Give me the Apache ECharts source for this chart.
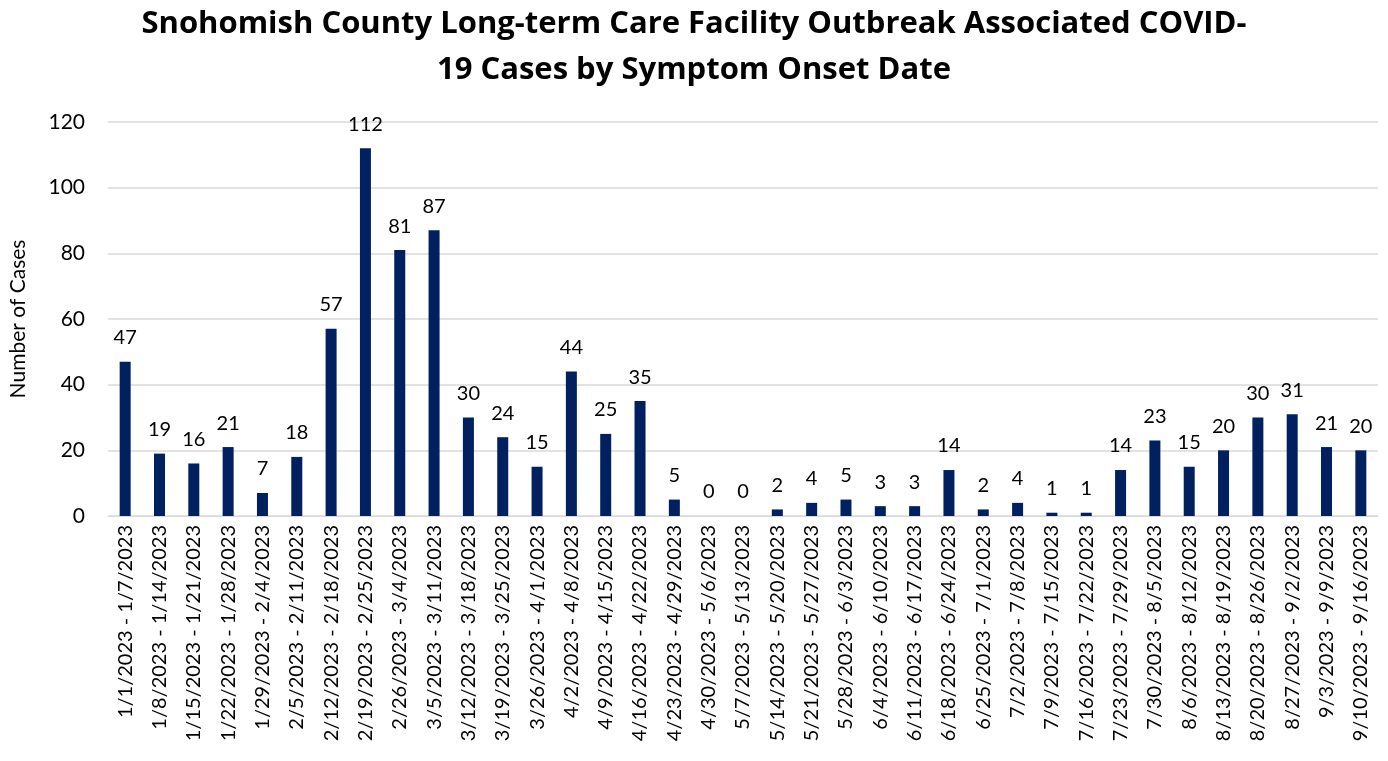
<!DOCTYPE html>
<html>
<head>
<meta charset="utf-8">
<script src="https://cdn.jsdelivr.net/npm/echarts@6/dist/echarts.min.js"></script>
<style>
  html, body { margin: 0; padding: 0; background: #fff; }
  #chart { width: 1388px; height: 761px; }
</style>
</head>
<body>
<div id="chart"></div>
<script>
// week ranges (symptom onset)
const weeks = [
  "1/1/2023 - 1/7/2023", "1/8/2023 - 1/14/2023", "1/15/2023 - 1/21/2023",
  "1/22/2023 - 1/28/2023", "1/29/2023 - 2/4/2023", "2/5/2023 - 2/11/2023",
  "2/12/2023 - 2/18/2023", "2/19/2023 - 2/25/2023", "2/26/2023 - 3/4/2023",
  "3/5/2023 - 3/11/2023", "3/12/2023 - 3/18/2023", "3/19/2023 - 3/25/2023",
  "3/26/2023 - 4/1/2023", "4/2/2023 - 4/8/2023", "4/9/2023 - 4/15/2023",
  "4/16/2023 - 4/22/2023", "4/23/2023 - 4/29/2023", "4/30/2023 - 5/6/2023",
  "5/7/2023 - 5/13/2023", "5/14/2023 - 5/20/2023", "5/21/2023 - 5/27/2023",
  "5/28/2023 - 6/3/2023", "6/4/2023 - 6/10/2023", "6/11/2023 - 6/17/2023",
  "6/18/2023 - 6/24/2023", "6/25/2023 - 7/1/2023", "7/2/2023 - 7/8/2023",
  "7/9/2023 - 7/15/2023", "7/16/2023 - 7/22/2023", "7/23/2023 - 7/29/2023",
  "7/30/2023 - 8/5/2023", "8/6/2023 - 8/12/2023", "8/13/2023 - 8/19/2023",
  "8/20/2023 - 8/26/2023", "8/27/2023 - 9/2/2023", "9/3/2023 - 9/9/2023",
  "9/10/2023 - 9/16/2023"
];
const cases = [47, 19, 16, 21, 7, 18, 57, 112, 81, 87, 30, 24, 15, 44, 25, 35, 5, 0, 0, 2,
  4, 5, 3, 3, 14, 2, 4, 1, 1, 14, 23, 15, 20, 30, 31, 21, 20];

const chart = echarts.init(document.getElementById("chart"));
const font = "Lato, 'Liberation Sans', sans-serif";

chart.setOption({
  animation: false,
  title: {
    text: "Snohomish County Long-term Care Facility Outbreak Associated COVID-\n19 Cases by Symptom Onset Date",
    left: "center",
    top: -4,
    textStyle: {
      fontFamily: "'Open Sans', sans-serif",
      fontWeight: "bold",
      fontSize: 31,
      lineHeight: 46,
      color: "#000"
    }
  },
  grid: { left: 101, right: 10, top: 122, bottom: 245 },
  xAxis: {
    type: "category",
    data: weeks,
    axisTick: { show: false },
    axisLine: { lineStyle: { color: "#d9d9d9" } },
    axisLabel: {
      interval: 0,
      rotate: 90,
      margin: 9,
      fontFamily: font,
      fontSize: 20,
      color: "#000"
    }
  },
  yAxis: {
    type: "value",
    min: 0,
    max: 120,
    interval: 20,
    name: "Number of Cases",
    nameLocation: "middle",
    nameGap: 79,
    nameTextStyle: { fontFamily: font, fontSize: 21, color: "#000" },
    axisLine: { show: false },
    axisTick: { show: false },
    axisLabel: { fontFamily: font, fontSize: 21, color: "#000", margin: 23 },
    splitLine: { lineStyle: { color: "#d9d9d9", width: 1.5 } }
  },
  series: [{
    type: "bar",
    data: cases,
    barWidth: 11,
    itemStyle: { color: "#002060" },
    label: {
      show: true,
      position: "top",
      distance: 14,
      fontFamily: font,
      fontSize: 20,
      color: "#000"
    }
  }]
});
</script>
</body>
</html>
